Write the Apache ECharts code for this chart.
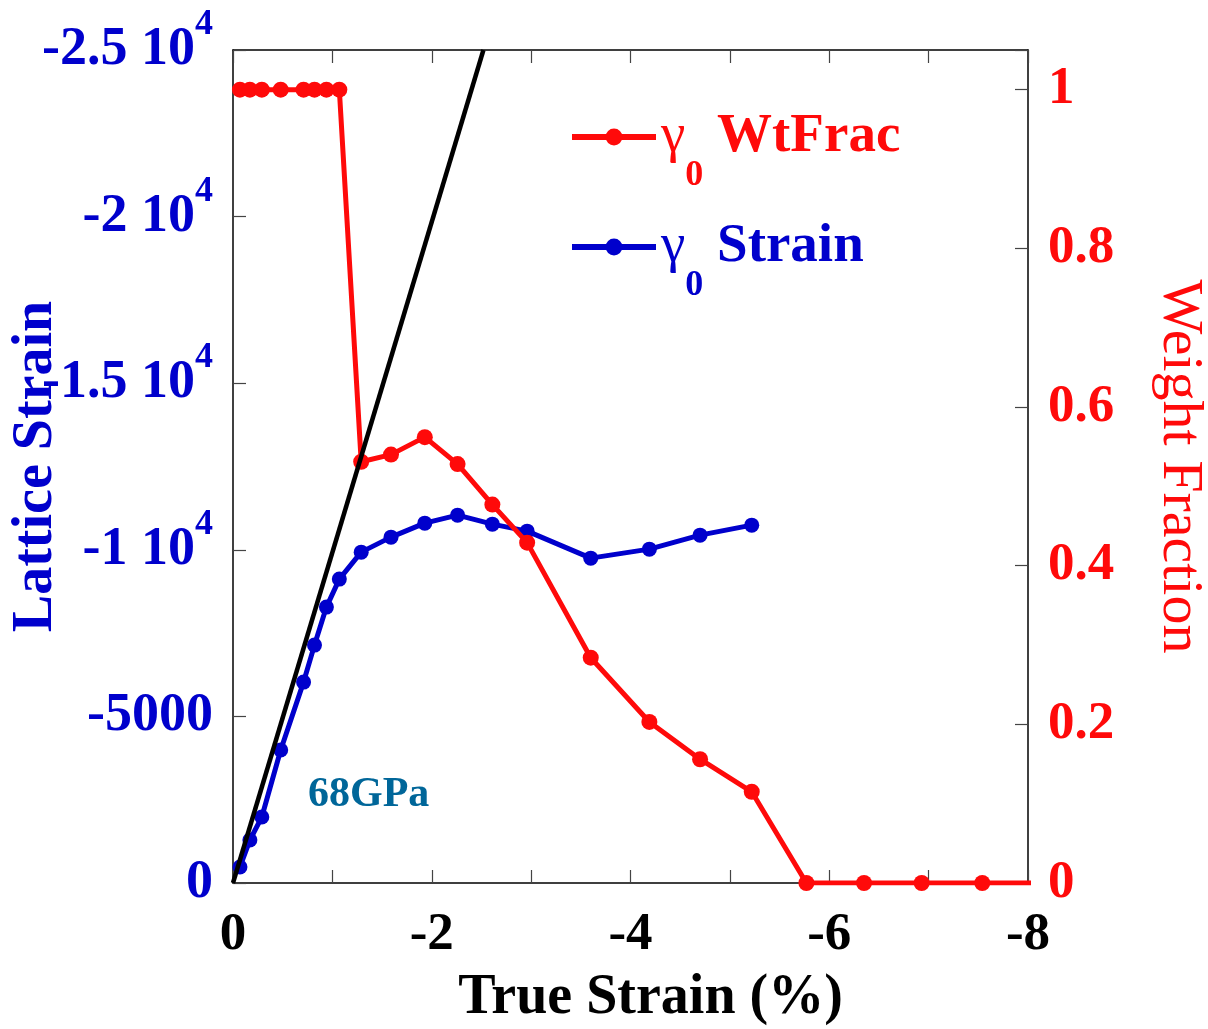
<!DOCTYPE html>
<html>
<head>
<meta charset="utf-8">
<script src="https://cdn.jsdelivr.net/npm/echarts@6/dist/echarts.min.js"></script>
<style>
html,body{margin:0;padding:0;background:#fff;}
#chart{width:1208px;height:1029px;}
</style>
</head>
<body>
<div id="chart"></div>
<script>
// shared true-strain positions (%) for both measured series
const trueStrain = [-0.07,-0.17,-0.29,-0.48,-0.71,-0.82,-0.94,-1.07,-1.29,-1.59,-1.93,-2.26,-2.61,-2.96,-3.60,-4.19,-4.70,-5.22];
// gamma0 lattice strain
const latticeStrain = [-480,-1290,-1980,-3990,-6030,-7140,-8280,-9120,-9930,-10380,-10800,-11040,-10770,-10560,-9750,-10020,-10440,-10740];
// gamma0 weight fraction (same positions) plus later points where it is zero
const wtFrac = [1,1,1,1,1,1,1,1,0.531,0.540,0.562,0.528,0.477,0.429,0.284,0.203,0.156,0.115];
const trueStrainExtra = [-5.77,-6.35,-6.93,-7.54,-8.12];
const wtFracExtra = [0,0,0,0,0];
// 68 GPa modulus line endpoints
const modulusX = [0,-2.52];
const modulusY = [0,-25000];
// tick settings
const xTicks = [0,-1,-2,-3,-4,-5,-6,-7,-8];
const leftTicks = [0,-5000,-10000,-15000,-20000,-25000];
const rightTicks = [0,0.2,0.4,0.6,0.8,1];

const FONT = 'Liberation Serif';
const BLUE = '#0000cc';
const RED = '#ff0a0a';

const strainData = trueStrain.map((x,i)=>[x,latticeStrain[i]]);
const wtData = trueStrain.map((x,i)=>[x,wtFrac[i]]).concat(trueStrainExtra.map((x,i)=>[x,wtFracExtra[i]]));
const modData = modulusX.map((x,i)=>[x,modulusY[i]]);

const chart = echarts.init(document.getElementById('chart'));
const tickStyle = {show:true, inside:true, length:13, lineStyle:{color:'#444', width:1.2}};
const lineStyleAxis = {show:true, onZero:false, lineStyle:{color:'#000', width:1.5}};

function legendRich(color){
  return {
    g:{fontFamily:FONT, fontSize:55, color:color, lineHeight:55},
    s:{fontFamily:FONT, fontSize:36, fontWeight:'bold', color:color, lineHeight:36, padding:[78,0,0,0]},
    t:{fontFamily:FONT, fontSize:55, fontWeight:'bold', color:color, lineHeight:55}
  };
}

const option = {
  backgroundColor:'#fff',
  animation:false,
  grid:{left:233, right:180, top:50, bottom:146, containLabel:false, outerBoundsMode:'none'},
  legend:[
    {
      left:569, top:80, orient:'vertical', padding:0,
      data:['WtFrac'],
      itemWidth:84, itemHeight:21,
      lineStyle:{width:6},
      textStyle:{color:RED, rich:legendRich(RED)},
      formatter:()=> '{g|γ}{s|0}{t| WtFrac}'
    },
    {
      left:569, top:190, orient:'vertical', padding:0,
      data:['Strain'],
      itemWidth:84, itemHeight:21,
      lineStyle:{width:6},
      textStyle:{color:BLUE, rich:legendRich(BLUE)},
      formatter:()=> '{g|γ}{s|0}{t| Strain}'
    }
  ],
  xAxis:[
    {
      type:'value', min:-8, max:0, interval:1, inverse:true, position:'bottom',
      axisLine:lineStyleAxis, axisTick:tickStyle, splitLine:{show:false},
      axisLabel:{
        margin:26, color:'#000', fontFamily:FONT, fontWeight:'bold', fontSize:53,
        formatter:(v)=> (xTicks.indexOf(v)>=0 && v%2===0) ? String(v) : ''
      },
      name:'True Strain (%)', nameLocation:'middle', nameGap:88,
      nameTextStyle:{color:'#000', fontFamily:FONT, fontWeight:'bold', fontSize:56, padding:[0,0,0,40]}
    },
    {
      type:'value', min:-8, max:0, interval:1, inverse:true, position:'top',
      axisLine:lineStyleAxis, axisTick:tickStyle, splitLine:{show:false},
      axisLabel:{show:false}
    }
  ],
  yAxis:[
    {
      type:'value', min:-25000, max:0, interval:5000, inverse:true, position:'left',
      axisLine:lineStyleAxis, axisTick:tickStyle, splitLine:{show:false},
      axisLabel:{
        margin:20, color:BLUE,
        formatter:(v)=>{
          if (leftTicks.indexOf(v)<0) return '';
          if (Math.abs(v) >= 10000) return '{m|' + (v/10000) + ' 10}{s|4}';
          return '{m|' + v + '}';
        },
        rich:{
          m:{fontFamily:FONT, fontWeight:'bold', fontSize:54, color:BLUE, lineHeight:54},
          s:{fontFamily:FONT, fontWeight:'bold', fontSize:36, color:BLUE, lineHeight:36, padding:[0,0,50,0]}
        }
      },
      name:'Lattice Strain', nameLocation:'middle', nameGap:168, nameRotate:90, nameMoveOverlap:false,
      nameTextStyle:{color:BLUE, fontFamily:FONT, fontWeight:'bold', fontSize:56}
    },
    {
      type:'value', min:0, max:1.05, interval:0.2, position:'right',
      axisLine:lineStyleAxis, axisTick:tickStyle, splitLine:{show:false},
      axisLabel:{
        margin:20, color:RED, fontFamily:FONT, fontWeight:'bold', fontSize:53,
        formatter:(v)=>{
          const r = rightTicks.find(t=>Math.abs(t-v)<1e-6);
          return r===undefined ? '' : String(r);
        }
      },
      name:'Weight Fraction', nameLocation:'middle', nameGap:122, nameRotate:-90,
      nameTextStyle:{color:RED, fontFamily:FONT, fontSize:58}
    }
  ],
  graphic:[
    {type:'text', left:308, top:774, style:{text:'68GPa', fill:'#006699', font:'bold 42px "Liberation Serif"'}}
  ],
  series:[
    {
      name:'Strain', type:'line', xAxisIndex:0, yAxisIndex:0, data:strainData,
      symbol:'circle', symbolSize:15, color:BLUE,
      lineStyle:{color:BLUE, width:5}, itemStyle:{color:BLUE}, clip:true, z:2
    },
    {
      name:'WtFrac', type:'line', xAxisIndex:0, yAxisIndex:1, data:wtData,
      symbol:'circle', symbolSize:16, color:RED,
      lineStyle:{color:RED, width:5}, itemStyle:{color:RED}, clip:true, z:3
    },
    {
      name:'Modulus', type:'line', xAxisIndex:0, yAxisIndex:0, data:modData,
      symbol:'none', lineStyle:{color:'#000', width:4.5}, clip:true, z:4
    }
  ]
};
chart.setOption(option);
</script>
</body>
</html>
